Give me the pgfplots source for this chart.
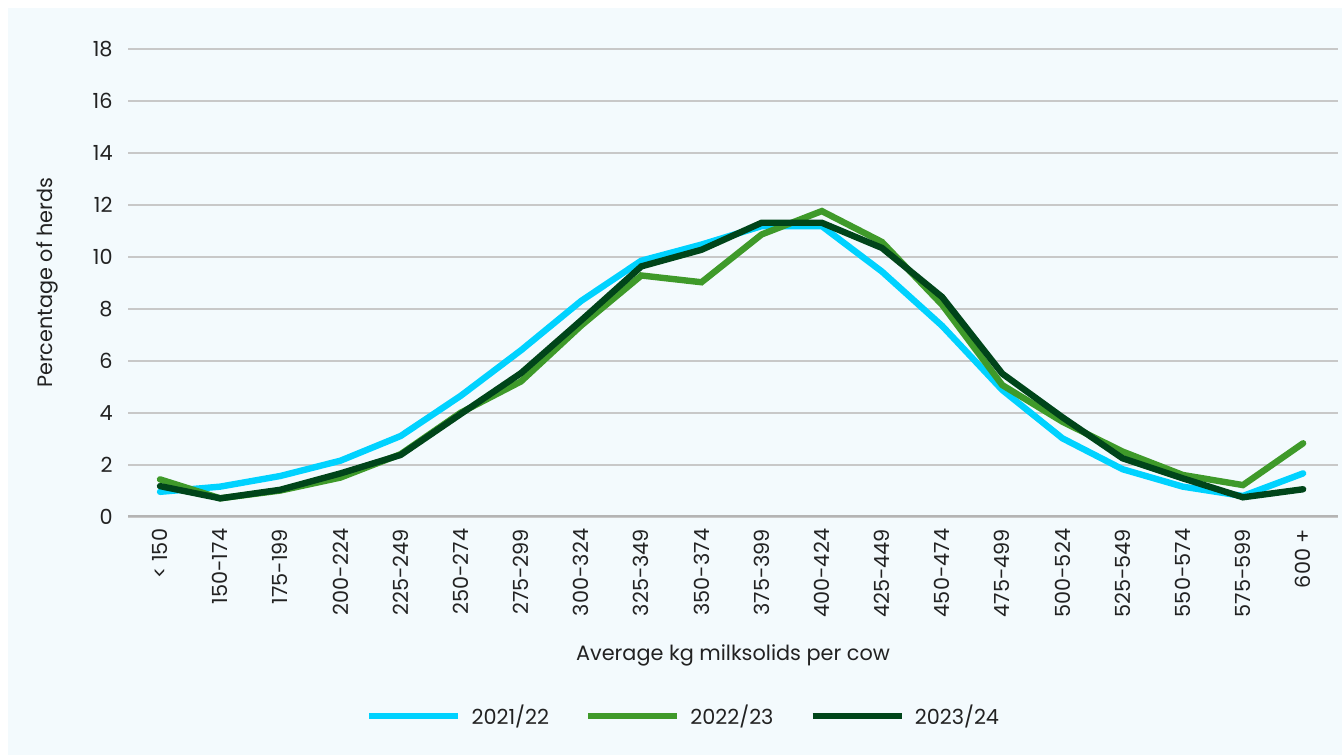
\documentclass[border=0pt]{standalone}
\usepackage{fontspec}
\setmainfont{Poppins}
\usepackage{pgfplots}
\pgfplotsset{compat=1.18}
\definecolor{bg}{HTML}{F3FAFD}
\definecolor{c1}{HTML}{00D2FF}
\definecolor{c2}{HTML}{3F9A2A}
\definecolor{c3}{HTML}{00451A}
\definecolor{gridc}{HTML}{C8C8C8}
\definecolor{txt}{HTML}{222222}
\newcommand{\fs}{\fontsize{10.4}{12}\selectfont}
\begin{document}
\begin{tikzpicture}
\fill[white] (0pt,0pt) rectangle (671pt,-377.5pt);
\fill[bg] (4pt,-4pt) rectangle (671pt,-377.5pt);
\begin{axis}[
  at={(64pt,-258.25pt)}, anchor=south west,
  scale only axis, width=605pt, height=233.75pt,
  xmin=-0.532, xmax=19.58, ymin=0, ymax=18,
  ytick={0,2,...,18},
  xtick={0,...,19},
  xticklabels={{< 150},150-174,175-199,200-224,225-249,250-274,275-299,300-324,325-349,350-374,375-399,400-424,425-449,450-474,475-499,500-524,525-549,550-574,575-599,{600 +}},
  /pgf/number format/assume math mode=true,
  axis line style={draw=none},
  tick style={draw=none},
  ymajorgrids,
  grid style={gridc, line width=1pt},
  ticklabel style={font=\fs, text=txt},
  yticklabel style={anchor=east, inner sep=0pt},
  yticklabel shift=7.5pt,
  xticklabel style={rotate=90, anchor=east, inner sep=0pt},
  xticklabel shift=6pt,
  xlabel={Average kg milksolids per cow},
  ylabel={Percentage of herds},
  every axis x label/.style={at={(axis description cs:0.5,-0.296)}, anchor=center, font=\fs, text=txt},
  every axis y label/.style={at={(axis description cs:-0.0669,0.5)}, anchor=center, rotate=90, font=\fs, text=txt},
  legend columns=3,
  legend style={at={(axis description cs:0.46,-0.427)}, anchor=center, draw=none, fill=none, font=\fs, text=txt,
    /tikz/every even column/.append style={column sep=16pt},
    /tikz/every odd column/.append style={column sep=3pt}},
  legend image code/.code={\draw[#1, line cap=butt] (0pt,0pt) -- (44.5pt,0pt);},
  every axis plot/.append style={line width=3.2pt, line cap=round},
]
\draw[gridc!90!black, line width=1.6pt] (rel axis cs:0,0) -- (rel axis cs:1,0);
\addplot[c1] coordinates {(0,0.95) (1,1.15) (2,1.56) (3,2.15) (4,3.10) (5,4.65) (6,6.40) (7,8.30) (8,9.85) (9,10.47) (10,11.18) (11,11.18) (12,9.43) (13,7.34) (14,4.87) (15,3.01) (16,1.82) (17,1.15) (18,0.79) (19,1.66)};
\addlegendentry{2021/22}
\addplot[c2] coordinates {(0,1.43) (1,0.70) (2,1.00) (3,1.50) (4,2.40) (5,4.00) (6,5.20) (7,7.35) (8,9.28) (9,9.02) (10,10.86) (11,11.76) (12,10.57) (13,8.15) (14,5.06) (15,3.65) (16,2.50) (17,1.60) (18,1.21) (19,2.82)};
\addlegendentry{2022/23}
\addplot[c3] coordinates {(0,1.17) (1,0.70) (2,1.03) (3,1.66) (4,2.37) (5,3.95) (6,5.52) (7,7.55) (8,9.63) (9,10.27) (10,11.31) (11,11.31) (12,10.34) (13,8.45) (14,5.50) (15,3.82) (16,2.24) (17,1.47) (18,0.74) (19,1.05)};
\addlegendentry{2023/24}
\end{axis}
\end{tikzpicture}
\end{document}
